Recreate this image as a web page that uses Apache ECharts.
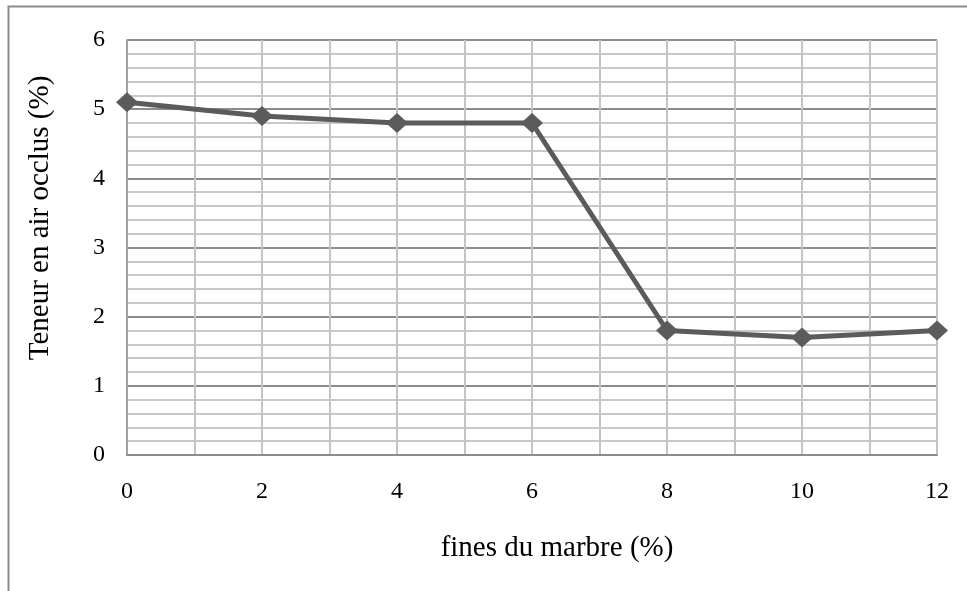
<!DOCTYPE html>
<html>
<head>
<meta charset="utf-8">
<style>
  html, body { margin: 0; padding: 0; background: #ffffff; }
  #chart { width: 967px; height: 591px; }
</style>
<script src="https://cdn.jsdelivr.net/npm/echarts@6/dist/echarts.min.js"></script>
</head>
<body>
<div id="chart"></div>
<script>
// Fines content of marble (%) and measured entrained air (%)
const finesPct = [0, 2, 4, 6, 8, 10, 12];
const airContent = [5.1, 4.9, 4.8, 4.8, 1.8, 1.7, 1.8];
const xTickLabels = ['0', '2', '4', '6', '8', '10', '12'];
const yTickLabels = ['0', '1', '2', '3', '4', '5', '6'];
const xTitle = 'fines du marbre (%)';
const yTitle = 'Teneur en air occlus (%)';

const serif = '"Liberation Serif", "Times New Roman", serif';
const chart = echarts.init(document.getElementById('chart'), null, { renderer: 'canvas' });

const seriesData = finesPct.map((x, i) => [x, airContent[i]]);

chart.setOption({
  animation: false,
  backgroundColor: '#ffffff',
  grid: { left: 127, right: 30, top: 40, bottom: 136, containLabel: false },
  xAxis: {
    type: 'value',
    min: 0,
    max: 12,
    interval: 1,
    axisLine: { show: true, lineStyle: { color: '#8c8c8c', width: 2 } },
    axisTick: { show: false },
    axisLabel: {
      margin: 25,
      fontFamily: serif,
      fontSize: 24,
      color: '#000000',
      formatter: v => (xTickLabels.includes(String(v)) ? String(v) : '')
    },
    splitLine: { show: true, lineStyle: { color: '#c4c4c4', width: 2 } }
  },
  yAxis: {
    type: 'value',
    min: 0,
    max: 6,
    interval: 1,
    axisLine: { show: true, lineStyle: { color: '#a0a0a0', width: 2 } },
    axisTick: { show: false },
    axisLabel: {
      margin: 22,
      fontFamily: serif,
      fontSize: 24,
      color: '#000000',
      formatter: v => yTickLabels[v] !== undefined ? yTickLabels[v] : ''
    },
    splitLine: { show: true, lineStyle: { color: '#8c8c8c', width: 2 } },
    minorTick: { show: false, splitNumber: 5 },
    minorSplitLine: { show: true, lineStyle: { color: '#c8c8c8', width: 2 } }
  },
  series: [{
    type: 'line',
    data: seriesData,
    symbol: 'diamond',
    symbolSize: [22, 20],
    showAllSymbol: true,
    lineStyle: { color: '#5b5b5b', width: 5 },
    itemStyle: { color: '#5b5b5b' },
    z: 5
  }],
  graphic: [
    {
      type: 'polyline',
      silent: true,
      shape: { points: [[8.5, 591], [8.5, 6.5], [967, 6.5]] },
      style: { stroke: '#8c8c8c', lineWidth: 2, fill: null }
    },
    {
      type: 'text',
      x: 557,
      y: 548,
      style: {
        text: xTitle,
        fontFamily: serif,
        fontSize: 29,
        fill: '#000000',
        align: 'center',
        verticalAlign: 'middle'
      }
    },
    {
      type: 'text',
      x: 40,
      y: 218,
      rotation: Math.PI / 2,
      style: {
        text: yTitle,
        fontFamily: serif,
        fontSize: 29,
        fill: '#000000',
        align: 'center',
        verticalAlign: 'middle'
      }
    }
  ]
});
</script>
</body>
</html>
